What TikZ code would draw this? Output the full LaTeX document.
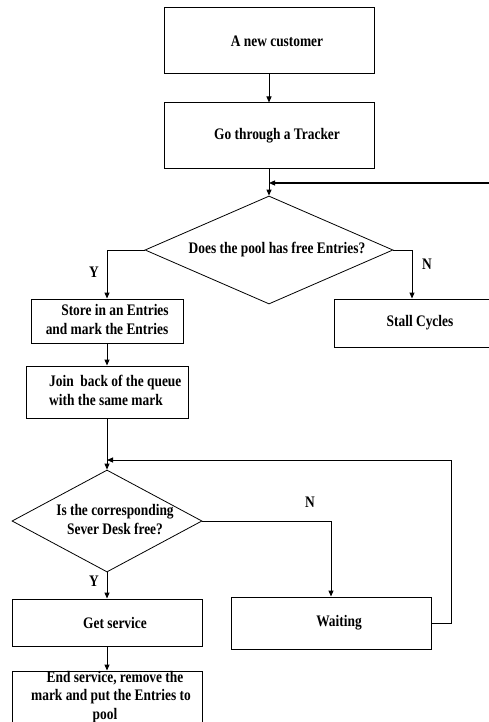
\documentclass[tikz,border=0pt]{standalone}
\usepackage{graphicx}
\usepackage{fontspec}
\setmainfont{Liberation Serif}
\usetikzlibrary{arrows.meta,shapes.geometric}
\newcommand{\vs}[1]{\scalebox{1}[1.2]{#1}}
\newcommand{\vsl}[2]{\scalebox{1}[1.2]{\begin{tabular}{@{}#1@{}}#2\end{tabular}}}
\begin{document}
\begin{tikzpicture}[x=1pt,y=-1pt,
  every node/.style={font=\fontsize{13.4}{15.6}\selectfont\bfseries},
  box/.style={draw,line width=1pt,rectangle,inner sep=0pt},
  dia/.style={draw,line width=0.8pt,diamond,inner sep=0pt},
  txt/.style={inner sep=0pt},
  flow/.style={line width=1pt,-{Triangle[length=6pt,width=5pt]}},
  link/.style={line width=1pt}]
\useasboundingbox (0,0) rectangle (488,722);

% process boxes
\node[box,minimum width=210pt,minimum height=66pt] (new) at (269,41) {\hspace*{16pt}\vs{A new customer}};
\node[box,minimum width=210pt,minimum height=66pt] (tracker) at (269,136) {\hspace*{16pt}\vs{Go through a Tracker}};
\node[dia,minimum width=248pt,minimum height=108pt] (d1) at (269,250) {};
\node[txt] (d1t) at (277,250) {\vs{Does the pool has free Entries?}};
\node[box,minimum width=152pt,minimum height=44pt] (store) at (107,321) {\vsl{c}{\hspace*{16pt}Store in an Entries\\and mark the Entries}};
\node[box,minimum width=156pt,minimum height=48pt] (stall) at (412,323) {\hspace*{16pt}\vs{Stall Cycles}};
\node[box,minimum width=162pt,minimum height=52pt] (join) at (107,392) {};
\node[txt,anchor=west] (joint) at (49,392) {\vsl{l}{Join\ \ back of the queue\\with the same mark}};
\node[dia,minimum width=190pt,minimum height=102pt] (d2) at (107,521) {};
\node[txt] (d2t) at (115,521) {\vsl{c}{Is the corresponding\\Sever Desk free?}};
\node[box,minimum width=190pt,minimum height=47pt] (get) at (107,622.5) {\hspace*{16pt}\vs{Get service}};
\node[box,minimum width=200pt,minimum height=52pt] (wait) at (331,623) {\hspace*{16pt}\vs{Waiting}};
\node[box,minimum width=190pt,minimum height=51pt] (endb) at (107,696.5) {};
\node[txt] (endt) at (111,697) {\vsl{c}{\hspace*{8pt}End service, remove the\\mark and put the Entries to\\pool\hspace*{12pt}}};

% labels
\node[txt] (y1) at (94,272) {\vs{Y}};
\node[txt] (n1) at (427,264) {\vs{N}};
\node[txt] (n2) at (310,502) {\vs{N}};
\node[txt] (y2) at (94,581) {\vs{Y}};

% helper coordinates
\coordinate (fb1) at (492,183);
\coordinate (fb2) at (451,460);

% connectors
\draw[flow] (new) -- (tracker);
\draw[flow] (tracker) -- (d1);
\draw[flow] (fb1) -- (tracker.south |- fb1);
\draw[flow] (d1.west) -| (store.north);
\draw[flow] (d1.east) -| (stall.north);
\draw[flow] (store) -- (join);
\draw[flow] (join) -- (d2);
\draw[flow] (wait.east) -| (fb2) -- (join.south |- fb2);
\draw[flow] (d2.east) -| (wait.north);
\draw[flow] (d2.south) -- (get.north);
\draw[flow] (get) -- (endb);
\end{tikzpicture}
\end{document}
